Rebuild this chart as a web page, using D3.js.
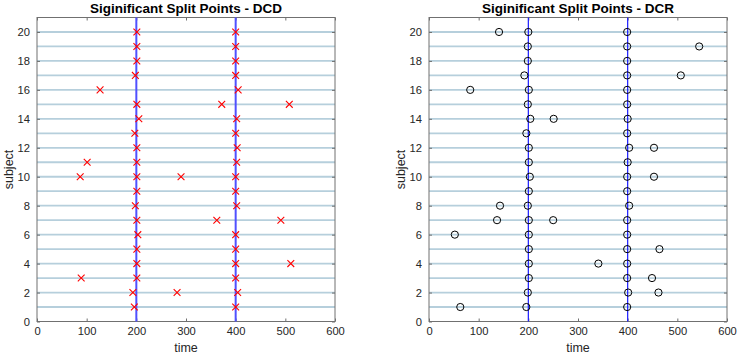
<!DOCTYPE html>
<html><head><meta charset="utf-8">
<script src="https://cdn.jsdelivr.net/npm/d3@7/dist/d3.min.js"></script>
<style>body{margin:0;background:#fff}svg{display:block;font-family:"Liberation Sans",Arial,Helvetica,sans-serif}</style>
</head><body><svg id="c" width="737" height="356"></svg>
<script>
// Data
const subjects = d3.range(1, 21);
const xTicks = [0, 100, 200, 300, 400, 500, 600];
const yTicks = [0, 2, 4, 6, 8, 10, 12, 14, 16, 18, 20];
const refLines = [200, 400];
// DCD split points: [time, subject]
const dcdPoints = [
  [196,1],[400,1],
  [193,2],[282,2],[404,2],
  [89,3],[201,3],[400,3],
  [201,4],[400,4],[511,4],
  [201,5],[400,5],
  [203,6],[400,6],
  [201,7],[362,7],[491,7],
  [198,8],[402,8],
  [201,9],[400,9],
  [87,10],[201,10],[290,10],[400,10],
  [101,11],[201,11],[402,11],
  [201,12],[403,12],
  [197,13],[400,13],
  [205,14],[402,14],
  [201,15],[372,15],[508,15],
  [127,16],[405,16],
  [198,17],[400,17],
  [201,18],[400,18],
  [201,19],[400,19],
  [201,20],[400,20]
];
// DCR split points: [time, subject]
const dcrPoints = [
  [63,1],[196,1],[399,1],
  [199,2],[401,2],[462,2],
  [201,3],[399,3],[449,3],
  [201,4],[341,4],[399,4],
  [201,5],[399,5],[464,5],
  [52,6],[201,6],[399,6],
  [137,7],[201,7],[250,7],[399,7],
  [143,8],[199,8],[403,8],
  [201,9],[399,9],
  [203,10],[399,10],[453,10],
  [201,11],[400,11],
  [201,12],[403,12],[453,12],
  [196,13],[399,13],
  [204,14],[251,14],[400,14],
  [199,15],[399,15],
  [83,16],[201,16],[399,16],
  [192,17],[399,17],[507,17],
  [199,18],[399,18],
  [199,19],[399,19],[544,19],
  [141,20],[200,20],[399,20]
];

const svg = d3.select("#c");
const plotTop = 17.5, plotBottom = 321.5;

function panel(left, right, title, points, marker, refW, refColor) {
  const x = d3.scaleLinear().domain([0, 600]).range([left, right]);
  const y = d3.scaleLinear().domain([0, 21]).range([plotBottom, plotTop]);
  const g = svg.append("g");
  g.selectAll("line.h").data(subjects).join("line")
    .attr("x1", x(0)).attr("x2", x(600))
    .attr("y1", d => y(d)).attr("y2", d => y(d))
    .attr("stroke", "#b6cfdc").attr("stroke-width", 1.8);
  const axB = d3.axisBottom(x).tickValues(xTicks).tickSize(-3).tickPadding(6);
  const axT = d3.axisTop(x).tickValues(xTicks).tickSize(-3).tickFormat("");
  const axL = d3.axisLeft(y).tickValues(yTicks).tickSize(-3).tickPadding(7);
  const axR = d3.axisRight(y).tickValues(yTicks).tickSize(-3).tickFormat("");
  const style = s => {
    s.select(".domain").remove();
    s.selectAll(".tick line").attr("stroke", "#707070");
    s.selectAll(".tick text").attr("fill", "#262626").attr("font-size", 11.2)
      .attr("font-family", '"Liberation Sans",Arial,sans-serif');
  };
  g.append("g").attr("transform", `translate(0,${plotBottom})`).call(axB).call(style);
  g.append("g").attr("transform", `translate(0,${plotTop})`).call(axT).call(style);
  g.append("g").attr("transform", `translate(${left},0)`).call(axL).call(style);
  g.append("g").attr("transform", `translate(${right},0)`).call(axR).call(style);
  g.append("rect").attr("x", left).attr("y", plotTop).attr("width", right - left).attr("height", plotBottom - plotTop)
    .attr("fill", "none").attr("stroke", "#707070").attr("stroke-width", 1);
  g.selectAll("line.r").data(refLines).join("line")
    .attr("x1", d => x(d)).attr("x2", d => x(d)).attr("y1", plotTop).attr("y2", plotBottom)
    .attr("stroke", refColor).attr("stroke-width", refW);
  if (marker === "x") {
    const s = 3.4;
    g.selectAll("path.m").data(points).join("path")
      .attr("d", d => { const cx = x(d[0]), cy = y(d[1]);
        return `M${cx-s},${cy-s}L${cx+s},${cy+s}M${cx-s},${cy+s}L${cx+s},${cy-s}`; })
      .attr("stroke", "#ff0000").attr("stroke-width", 1.1).attr("fill", "none");
  } else {
    g.selectAll("circle.m").data(points).join("circle")
      .attr("cx", d => x(d[0])).attr("cy", d => y(d[1])).attr("r", 3.6)
      .attr("stroke", "#000").attr("stroke-width", 1).attr("fill", "none");
  }
  g.append("text").attr("x", (left + right) / 2).attr("y", 12.5).attr("text-anchor", "middle")
    .attr("font-weight", "bold").attr("font-size", 13.5).attr("fill", "#000").text(title);
  g.append("text").attr("x", (left + right) / 2).attr("y", 352).attr("text-anchor", "middle")
    .attr("font-size", 12.5).attr("fill", "#262626").text("time");
  g.append("text").attr("transform", `translate(${left - 24},${(plotTop + plotBottom) / 2}) rotate(-90)`)
    .attr("text-anchor", "middle").attr("font-size", 12.5).attr("fill", "#262626").text("subject");
}

panel(37, 335, "Siginificant Split Points - DCD", dcdPoints, "x", 2, "#5050ff");
panel(429, 727, "Siginificant Split Points - DCR", dcrPoints, "o", 1.2, "#1a1aff");
</script></body></html>
